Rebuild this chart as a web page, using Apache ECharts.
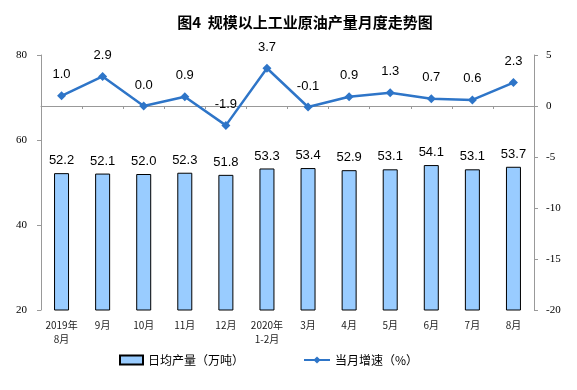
<!DOCTYPE html>
<html><head><meta charset="utf-8">
<script src="https://cdn.jsdelivr.net/npm/echarts@6/dist/echarts.min.js"></script>
<style>html,body{margin:0;padding:0;background:#fff}#c{width:577px;height:390px}</style>
</head><body><div id="c"></div>
<script>
var categories = ['2019年\n8月','9月','10月','11月','12月','2020年\n1-2月','3月','4月','5月','6月','7月','8月'];
var output = [52.2,52.1,52.0,52.3,51.8,53.3,53.4,52.9,53.1,54.1,53.1,53.7];
var growth = [1.0,2.9,0.0,0.9,-1.9,3.7,-0.1,0.9,1.3,0.7,0.6,2.3];
var titleText = '图4  规模以上工业原油产量月度走势图';
var barName = '日均产量（万吨）';
var lineName = '当月增速（%）';

var chart = echarts.init(document.getElementById('c'));
var serif = 'Times New Roman, Liberation Serif, serif';
var legText = {fontSize:12,color:'#000',fontFamily:'Noto Sans CJK SC'};
chart.setOption({
  animation:false,
  title:{text:titleText,left:300,top:10,textAlign:'center',textStyle:{fontSize:15,fontWeight:'bold',color:'#000',fontFamily:'Noto Sans CJK SC'}},
  legend:[
    {top:349,left:114,itemWidth:23,itemHeight:9,itemGap:4,textStyle:legText,data:[{name:barName,icon:'rect'}]},
    {top:349,left:298,itemWidth:26,itemHeight:9,textStyle:legText,data:[{name:lineName}]}
  ],
  grid:{left:41,right:43,top:55,bottom:80,containLabel:false},
  xAxis:{type:'category',data:categories,
    axisLine:{lineStyle:{color:'#999'}},
    axisTick:{show:true,alignWithLabel:false,length:3,lineStyle:{color:'#999'}},
    axisLabel:{fontSize:10,color:'#222',fontFamily:'SimSun, Noto Sans CJK SC',lineHeight:14,interval:0}},
  yAxis:[
    {type:'value',min:20,max:80,interval:20,splitLine:{show:false},
     axisLine:{show:true,lineStyle:{color:'#999'}},axisTick:{show:true,length:4,lineStyle:{color:'#999'}},
     axisLabel:{fontSize:11,color:'#000',fontFamily:serif,margin:14}},
    {type:'value',min:-20,max:5,interval:5,splitLine:{show:false},
     axisLine:{show:true,lineStyle:{color:'#999'}},axisTick:{show:true,length:4,lineStyle:{color:'#999'}},
     axisLabel:{fontSize:11,color:'#000',fontFamily:serif,margin:12}}
  ],
  series:[
    {name:barName,type:'bar',data:output,barWidth:15,yAxisIndex:0,
     itemStyle:{color:'#99CCFF',borderColor:'#000',borderWidth:1},
     label:{show:true,position:'top',distance:6,fontSize:13,color:'#000',fontFamily:'Liberation Sans, Arial',formatter:function(p){return p.value.toFixed(1);}}},
    {name:lineName,type:'line',data:growth,yAxisIndex:1,
     symbol:'diamond',symbolSize:9,
     lineStyle:{color:'#2E75C8',width:2.5},itemStyle:{color:'#2E75C8'},
     label:{show:true,position:'top',distance:10,fontSize:13,color:'#000',fontFamily:'Liberation Sans, Arial',formatter:function(p){return p.value.toFixed(1);}}}
  ]
});
</script></body></html>
